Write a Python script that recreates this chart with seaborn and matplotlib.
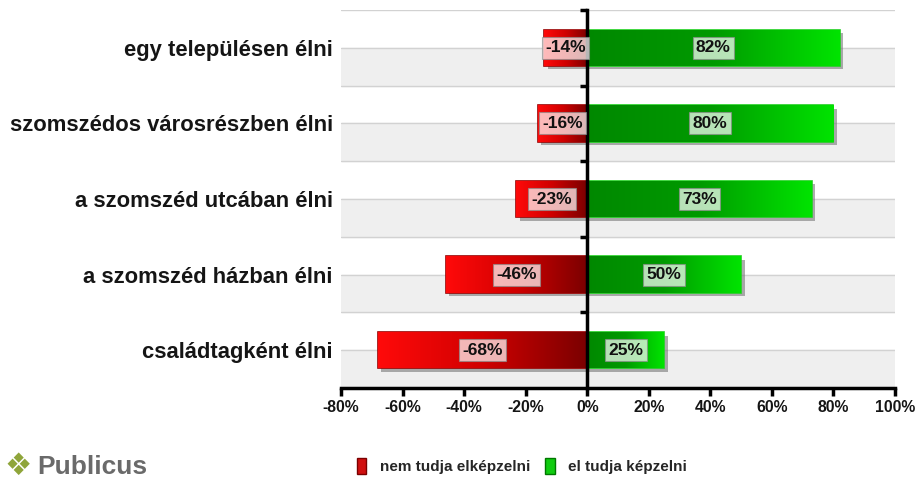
import numpy as np
import pandas as pd
import matplotlib
matplotlib.use("Agg")
import matplotlib.pyplot as plt
import seaborn as sns
from matplotlib.colors import LinearSegmentedColormap
import matplotlib.patheffects as pe
from matplotlib.patches import Patch

categories = ["egy településen élni", "szomszédos városrészben élni",
              "a szomszéd utcában élni", "a szomszéd házban élni", "családtagként élni"]
nem_values = [-14, -16, -23, -46, -68]
el_values = [82, 80, 73, 50, 25]
series_names = ["nem tudja elképzelni", "el tudja képzelni"]
xticks = [-80, -60, -40, -20, 0, 20, 40, 60, 80, 100]

sns.set_theme(style="white")
plt.rcParams["font.family"] = ["Liberation Sans", "DejaVu Sans"]

df = pd.DataFrame({
    "category": categories * 2,
    "value": nem_values + el_values,
    "series": [series_names[0]] * len(categories) + [series_names[1]] * len(categories),
})

fig = plt.figure(figsize=(9.19, 4.8), dpi=100)
ax = fig.add_axes([341 / 919, 92 / 480, 554 / 919, 378 / 480])

sns.barplot(data=df, y="category", x="value", hue="series", dodge=False,
            palette=["#c00000", "#00b000"], width=0.48, legend=False, ax=ax,
            orient="h", zorder=3)

xlim = (-80, 100)
ylim = (4.5, -0.5)

cmaps = [LinearSegmentedColormap.from_list("r", ["#ff0a0a", "#d00000", "#7a0000"]),
         LinearSegmentedColormap.from_list("g", ["#008800", "#009a00", "#00e400"])]
edges = ["#9a0000", "#20d020"]
grad = np.linspace(0, 1, 256).reshape(1, -1)
shadow = [pe.SimplePatchShadow(offset=(2.5, -2.5), shadow_rgbFace="#777777", alpha=0.6), pe.Normal()]

for k, cont in enumerate(ax.containers):
    for p in cont.patches:
        x0, y0 = p.get_x(), p.get_y()
        w, h = p.get_width(), p.get_height()
        xa, xb = min(x0, x0 + w), max(x0, x0 + w)
        p.set_edgecolor(edges[k])
        p.set_linewidth(1.2)
        p.set_path_effects(shadow)
        im = ax.imshow(grad, extent=[xa, xb, y0 + h, y0], aspect="auto",
                       cmap=cmaps[k], zorder=3.5, interpolation="bicubic")
        im.set_clip_path(p)

# value labels
for k, vals in enumerate([nem_values, el_values]):
    for i, v in enumerate(vals):
        ax.text(v / 2, i, f"{v}%", ha="center", va="center", fontsize=12.5,
                fontweight="bold", color="#111111", zorder=6,
                bbox=dict(boxstyle="square,pad=0.2", fc=(1, 1, 1, 0.72),
                          ec=(0.55, 0.55, 0.55, 0.7), lw=0.8))

ax.set_xlim(*xlim)
ax.set_ylim(*ylim)

# background stripes and grid
for i in range(len(categories)):
    ax.axhspan(i, i + 0.5, color="#efefef", zorder=0)
ax.set_yticks(np.arange(-0.5, 4.6, 0.5), minor=True)
ax.grid(False)
ax.grid(axis="y", which="both", color="#d2d2d2", lw=1.0, zorder=1)
ax.set_axisbelow(True)

ax.set_yticks(range(len(categories)))
ax.set_yticklabels(categories, fontsize=15.8, fontweight="bold", color="#151515")
ax.tick_params(axis="y", which="both", length=0, pad=6)

ax.set_xticks(xticks)
ax.set_xticklabels([f"{v}%" for v in xticks], fontsize=11.3, fontweight="bold",
                   color="#151515")
ax.tick_params(axis="x", direction="out", length=6, width=2.5, color="black", pad=3, bottom=True)

for s in ["top", "right", "left"]:
    ax.spines[s].set_visible(False)
ax.spines["bottom"].set_linewidth(2.5)
ax.spines["bottom"].set_color("black")
ax.set_xlabel("")
ax.set_ylabel("")

# zero line with category-boundary ticks
sec = ax.secondary_yaxis((0 - xlim[0]) / (xlim[1] - xlim[0]))
sec.set_yticks(np.arange(-0.5, 4.0, 1.0))
sec.set_yticklabels([])
sec.tick_params(length=5, width=2.5, direction="out", color="black")
sec.spines["left"].set_linewidth(2.5)
sec.spines["left"].set_color("black")
sec.set_zorder(5)

# legend
handles = [Patch(facecolor="#d01010", edgecolor="#7a0000"),
           Patch(facecolor="#10cc10", edgecolor="#007700")]
fig.legend(handles, series_names, loc="center", bbox_to_anchor=(522 / 919, 1 - 466 / 480),
           ncol=2, frameon=False, prop={"weight": "bold", "size": 11},
           handlelength=0.6, handleheight=1.2, columnspacing=1.0, handletextpad=0.9)

# logo
fig.text(4 / 919, 1 - 466 / 480, "❖", fontsize=22, color="#8fa53a", va="center",
         ha="left", family="DejaVu Sans")
fig.text(37 / 919, 1 - 467 / 480, "Publicus", fontsize=19, color="#6a6a6a", va="center",
         ha="left", fontweight="bold")

fig.savefig("out.png", dpi=100)
